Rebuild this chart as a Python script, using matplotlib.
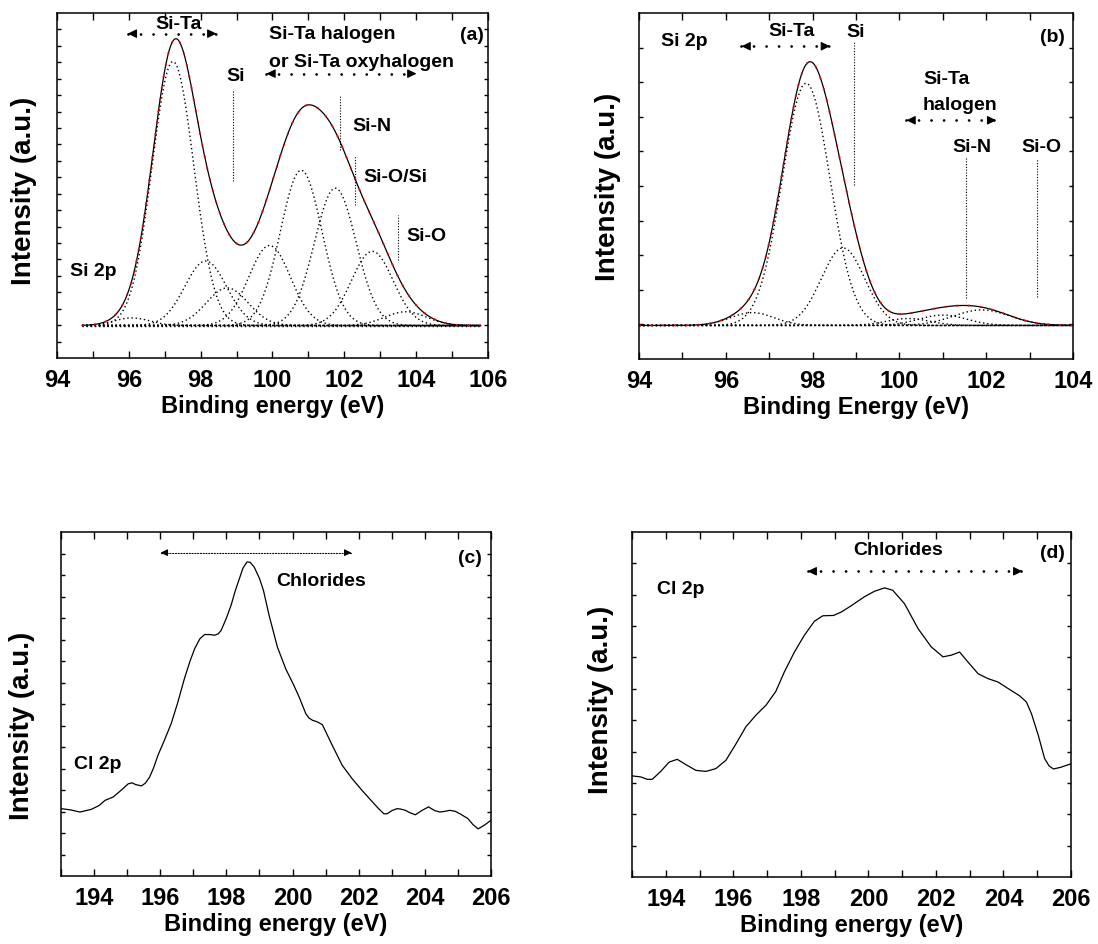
import numpy as np
import matplotlib.pyplot as plt
from matplotlib.ticker import MultipleLocator

plt.rcParams['font.family'] = ['Liberation Sans', 'DejaVu Sans']
plt.rcParams['font.weight'] = 'bold'
plt.rcParams['axes.labelweight'] = 'bold'

# ---- (a) Si 2p peak fit: components (centre eV, height, sigma eV) ----
a_centers = [96.09, 97.23, 98.14, 98.74, 99.92, 100.80, 101.75, 102.78, 103.71]
a_heights = [0.022, 0.765, 0.187, 0.109, 0.232, 0.450, 0.398, 0.215, 0.040]
a_sigmas = [0.50, 0.58, 0.58, 0.58, 0.58, 0.58, 0.58, 0.58, 0.58]
a_base = 0.094
a_range = (94.7, 105.8)

# ---- (b) Si 2p peak fit ----
b_centers = [96.61, 97.85, 98.70, 100.20, 101.00, 101.90]
b_heights = [0.037, 0.700, 0.224, 0.020, 0.030, 0.045]
b_sigmas = [0.50, 0.55, 0.50, 0.50, 0.55, 0.65]
b_base = 0.097
b_range = (94.0, 104.0)

# ---- (c) Cl 2p spectrum ----
c_energy = [193.00, 193.30, 193.57, 193.92, 194.15, 194.33, 194.58, 194.80, 195.03,
            195.15, 195.25, 195.43, 195.55, 195.68, 195.80, 195.93, 196.13, 196.33,
            196.53, 196.73, 196.90, 197.04, 197.20, 197.34, 197.50, 197.64, 197.75,
            197.84, 198.00, 198.14, 198.27, 198.39, 198.50, 198.62, 198.72, 198.84,
            199.00, 199.12, 199.29, 199.54, 199.79, 200.04, 200.20, 200.40, 200.50,
            200.60, 200.75, 200.90, 201.05, 201.20, 201.50, 201.80, 202.10, 202.40,
            202.60, 202.76, 202.86, 203.00, 203.16, 203.30, 203.41, 203.55, 203.71,
            203.90, 204.11, 204.30, 204.46, 204.60, 204.76, 204.92, 205.06, 205.30,
            205.45, 205.61, 205.80, 206.00]
c_int = [0.196, 0.192, 0.186, 0.194, 0.205, 0.220, 0.230, 0.248, 0.268,
         0.271, 0.266, 0.262, 0.270, 0.288, 0.315, 0.351, 0.396, 0.443,
         0.505, 0.574, 0.625, 0.661, 0.690, 0.702, 0.702, 0.700, 0.704,
         0.714, 0.750, 0.787, 0.830, 0.864, 0.895, 0.913, 0.912, 0.898,
         0.865, 0.830, 0.758, 0.666, 0.603, 0.554, 0.520, 0.472, 0.459,
         0.453, 0.448, 0.440, 0.410, 0.380, 0.322, 0.283, 0.249, 0.217,
         0.196, 0.181, 0.181, 0.190, 0.196, 0.194, 0.191, 0.184, 0.178,
         0.190, 0.201, 0.190, 0.186, 0.188, 0.191, 0.188, 0.181, 0.167,
         0.150, 0.137, 0.148, 0.162]

# ---- (d) Cl 2p spectrum ----
d_energy = [193.00, 193.26, 193.45, 193.60, 193.85, 194.10, 194.34, 194.59, 194.89,
            195.19, 195.48, 195.78, 196.08, 196.37, 196.67, 196.97, 197.26, 197.51,
            197.81, 198.10, 198.40, 198.65, 198.97, 199.20, 199.49, 199.88, 200.18,
            200.48, 200.72, 201.07, 201.47, 201.86, 202.21, 202.46, 202.70, 202.95,
            203.25, 203.54, 203.84, 204.14, 204.48, 204.68, 204.83, 205.03, 205.22,
            205.35, 205.48, 205.70, 206.00]
d_int = [0.293, 0.290, 0.283, 0.283, 0.306, 0.333, 0.341, 0.326, 0.309,
         0.306, 0.314, 0.338, 0.386, 0.435, 0.469, 0.498, 0.538, 0.594,
         0.652, 0.700, 0.741, 0.757, 0.758, 0.768, 0.786, 0.812, 0.828,
         0.838, 0.831, 0.792, 0.720, 0.667, 0.638, 0.643, 0.652, 0.623,
         0.589, 0.575, 0.565, 0.546, 0.525, 0.507, 0.473, 0.411, 0.343,
         0.322, 0.313, 0.318, 0.328]

TICK = 17
XLAB = 17
YLAB = 20
ANN = 14

DOTS = (0, (1, 2))
FINE = (0, (1, 1.5))
BIG_DOTS = (0, (0.01, 4.5))


def gauss(x, c, h, s):
    return h * np.exp(-(x - c) ** 2 / (2 * s ** 2))


def style_axes(ax, xlim, ny, xlabel):
    ax.set_xlim(*xlim)
    ax.set_ylim(0, 1)
    ax.xaxis.set_major_locator(MultipleLocator(2))
    ax.xaxis.set_minor_locator(MultipleLocator(1))
    ax.set_yticks(np.arange(1, ny) / ny)
    ax.tick_params(axis='x', which='both', direction='in', top=True,
                   length=5, width=1, labelsize=TICK, pad=8)
    ax.tick_params(axis='y', which='both', direction='in', right=True,
                   length=3, width=1, labelleft=False)
    for sp in ax.spines.values():
        sp.set_linewidth(1.1)
    ax.set_xlabel(xlabel, fontsize=XLAB, labelpad=2)
    ax.set_ylabel('Intensity (a.u.)', fontsize=YLAB)


def range_arrow(ax, x0, x1, y, ls=BIG_DOTS, lw=2.0, scale=12):
    ax.plot([x0, x1], [y, y], color='k', lw=lw, linestyle=ls,
            dash_capstyle='round')
    for xe, off in ((x0, 5), (x1, -5)):
        ax.annotate('', xy=(xe, y), xytext=(off, 0), textcoords='offset points',
                    arrowprops=dict(arrowstyle='-|>,head_length=0.45,head_width=0.22',
                                    color='k', lw=0.8, mutation_scale=scale,
                                    shrinkA=0, shrinkB=0))


def marker_line(ax, x, y0, y1):
    ax.plot([x, x], [y0, y1], color='k', lw=0.8, linestyle=FINE)


def fit_panel(ax, centers, heights, sigmas, base, xr):
    x = np.linspace(xr[0], xr[1], 900)
    env = np.full_like(x, base)
    ax.plot(x, np.full_like(x, base), color='k', lw=1, linestyle=DOTS)
    for c, h, s in zip(centers, heights, sigmas):
        g = gauss(x, c, h, s)
        env = env + g
        ax.plot(x, base + g, color='k', lw=1, linestyle=DOTS)
    ax.plot(x, env, color='k', lw=0.9)
    ax.plot(x, env, color='red', lw=1.4, linestyle=(0, (1, 5)))


fig = plt.figure(figsize=(10.98, 9.44), dpi=100)

# (a)
ax = fig.add_axes([0.0519, 0.6208, 0.3925, 0.3655])
fit_panel(ax, a_centers, a_heights, a_sigmas, a_base, a_range)
style_axes(ax, (94, 106), 21, 'Binding energy (eV)')
ax.yaxis.set_label_coords(-0.046, 0.484)
ax.text(97.39, 0.952, 'Si-Ta', fontsize=ANN, ha='center', va='baseline')
range_arrow(ax, 95.97, 98.44, 0.94)
ax.text(98.98, 0.802, 'Si', fontsize=ANN, ha='center', va='baseline')
marker_line(ax, 98.91, 0.512, 0.778)
ax.text(94.37, 0.239, 'Si 2p', fontsize=ANN, ha='left', va='baseline')
ax.text(99.89, 0.925, 'Si-Ta halogen', fontsize=ANN, ha='left', va='baseline')
ax.text(99.89, 0.843, 'or Si-Ta oxyhalogen', fontsize=ANN, ha='left', va='baseline')
range_arrow(ax, 99.83, 104.01, 0.824)
marker_line(ax, 101.87, 0.604, 0.758)
ax.text(102.22, 0.659, 'Si-N', fontsize=ANN, ha='left', va='baseline')
marker_line(ax, 102.29, 0.444, 0.585)
ax.text(102.54, 0.509, 'Si-O/Si', fontsize=ANN, ha='left', va='baseline')
marker_line(ax, 103.49, 0.285, 0.415)
ax.text(103.73, 0.338, 'Si-O', fontsize=ANN, ha='left', va='baseline')
ax.text(0.99, 0.923, '(a)', fontsize=ANN, ha='right', va='baseline',
        transform=ax.transAxes)

# (b)
ax = fig.add_axes([0.582, 0.6197, 0.3953, 0.3665])
fit_panel(ax, b_centers, b_heights, b_sigmas, b_base, b_range)
style_axes(ax, (94, 104), 10, 'Binding Energy (eV)')
ax.yaxis.set_label_coords(-0.041, 0.497)
ax.text(94.50, 0.906, 'Si 2p', fontsize=ANN, ha='left', va='baseline')
ax.text(97.51, 0.933, 'Si-Ta', fontsize=ANN, ha='center', va='baseline')
range_arrow(ax, 96.36, 98.40, 0.904)
ax.text(98.99, 0.931, 'Si', fontsize=ANN, ha='center', va='baseline')
marker_line(ax, 98.95, 0.504, 0.918)
ax.text(100.54, 0.796, 'Si-Ta', fontsize=ANN, ha='left', va='baseline')
ax.text(100.54, 0.720, 'halogen', fontsize=ANN, ha='left', va='baseline')
range_arrow(ax, 100.16, 102.23, 0.690)
ax.text(101.67, 0.597, 'Si-N', fontsize=ANN, ha='center', va='baseline')
marker_line(ax, 101.54, 0.176, 0.581)
ax.text(103.26, 0.598, 'Si-O', fontsize=ANN, ha='center', va='baseline')
marker_line(ax, 103.17, 0.178, 0.577)
ax.text(0.981, 0.915, '(b)', fontsize=ANN, ha='right', va='baseline',
        transform=ax.transAxes)

# (c)
ax = fig.add_axes([0.0556, 0.0720, 0.3916, 0.3644])
ax.plot(c_energy, c_int, color='k', lw=0.9)
style_axes(ax, (193, 206), 16, 'Binding energy (eV)')
ax.yaxis.set_label_coords(-0.060, 0.436)
range_arrow(ax, 196.01, 201.78, 0.940, ls=FINE, lw=0.8, scale=9)
ax.text(199.51, 0.842, 'Chlorides', fontsize=ANN, ha='left', va='baseline')
ax.text(0.978, 0.910, '(c)', fontsize=ANN, ha='right', va='baseline',
        transform=ax.transAxes)
ax.text(193.40, 0.310, 'Cl 2p', fontsize=ANN, ha='left', va='baseline')

# (d)
ax = fig.add_axes([0.5756, 0.0710, 0.3998, 0.3655])
ax.plot(d_energy, d_int, color='k', lw=0.9)
style_axes(ax, (193, 206), 11, 'Binding energy (eV)')
ax.yaxis.set_label_coords(-0.041, 0.513)
ax.text(199.54, 0.932, 'Chlorides', fontsize=ANN, ha='left', va='baseline')
range_arrow(ax, 198.20, 204.56, 0.886)
ax.text(0.986, 0.925, '(d)', fontsize=ANN, ha='right', va='baseline',
        transform=ax.transAxes)
ax.text(193.73, 0.821, 'Cl 2p', fontsize=ANN, ha='left', va='baseline')

fig.savefig('out.png', dpi=100)
